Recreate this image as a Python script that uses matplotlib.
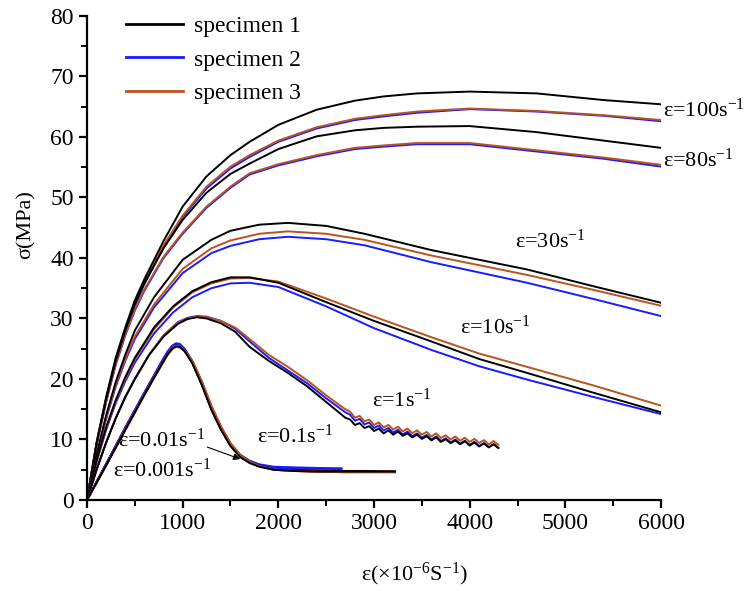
import numpy as np
import matplotlib.pyplot as plt
from matplotlib.lines import Line2D

plt.rcParams['font.family'] = ['Liberation Serif', 'DejaVu Serif']
plt.rcParams['mathtext.fontset'] = 'custom'
plt.rcParams['mathtext.rm'] = 'Liberation Serif'
plt.rcParams['mathtext.it'] = 'Liberation Serif:italic'

# cores dos corpos de prova
c_s1 = '#000000'
c_s2 = '#1a1aff'
c_s3 = '#b9531f'

# ---- taxas altas (100 e 80 s^-1) ----
x_hi = [0, 100, 200, 300, 400, 500, 600, 800, 1000, 1250, 1500, 1700, 2000,
        2400, 2800, 3100, 3450, 4000, 4700, 5400, 6000]
y100_s1 = [0, 9.5, 17, 23.5, 28.5, 33, 36.5, 42.8, 48.5, 53.5, 57, 59.2, 62,
           64.5, 66, 66.7, 67.2, 67.5, 67.2, 66.1, 65.4]
y100_s2 = [0, 9.3, 16.6, 23, 28, 32.2, 35.7, 41.8, 46.8, 51.5, 54.8, 56.7, 59.2,
           61.4, 62.8, 63.4, 64.0, 64.6, 64.2, 63.5, 62.6]
y100_s3 = [0, 9.4, 16.8, 23.2, 28.2, 32.5, 36, 42.1, 47, 51.8, 55.1, 57, 59.4,
           61.6, 63.0, 63.6, 64.2, 64.7, 64.3, 63.6, 62.8]
y80_s1 = [0, 9.3, 16.6, 23, 28, 32.3, 35.8, 41.6, 46.3, 50.8, 53.9, 55.6, 58,
          60.1, 61.1, 61.5, 61.7, 61.8, 60.8, 59.4, 58.2]
y80_s2 = [0, 9.1, 16.2, 22.3, 27.2, 31.3, 34.6, 40.0, 44, 48.3, 51.6, 53.8, 55.3,
          56.8, 58.0, 58.4, 58.8, 58.8, 57.6, 56.4, 55.1]
y80_s3 = [0, 9.2, 16.3, 22.5, 27.4, 31.5, 34.8, 40.2, 44.2, 48.5, 51.8, 54.0, 55.5,
          57.0, 58.2, 58.6, 59.0, 59.0, 57.8, 56.6, 55.4]

# ---- 30 s^-1 ----
x30 = [0, 100, 200, 300, 400, 500, 700, 1000, 1300, 1500, 1800, 2100, 2500,
       2900, 3600, 4600, 5300, 6000]
y30_s1 = [0, 7.5, 14, 19.5, 24, 28, 33.5, 39.7, 43, 44.5, 45.5, 45.8, 45.3,
          44.0, 41.3, 38.1, 35.3, 32.6]
y30_s2 = [0, 7.2, 13.4, 18.7, 23, 26.6, 31.8, 37.5, 40.8, 42.0, 43.1, 43.5, 43.1,
          42.1, 39.3, 35.9, 33.2, 30.4]
y30_s3 = [0, 7.3, 13.6, 19, 23.3, 27, 32.3, 38.2, 41.6, 42.9, 44, 44.4, 44.0,
          43.0, 40.4, 37.2, 34.7, 32.1]

# ---- 10 s^-1 ----
x10 = [0, 100, 200, 300, 400, 500, 700, 900, 1100, 1300, 1500, 1700, 2000,
       2500, 3000, 3600, 4100, 4600, 5300, 6000]
y10_s1 = [0, 6.5, 12, 16.5, 20.3, 23.5, 28.5, 32, 34.5, 36, 36.8, 36.8, 35.9,
          32.7, 29.6, 26.2, 23.3, 21.0, 17.7, 14.5]
y10_s2 = [0, 6.3, 11.6, 16, 19.6, 22.7, 27.5, 31, 33.5, 35, 35.8, 35.9, 35.2,
          32.0, 28.4, 24.8, 22.1, 19.9, 17.0, 14.2]
y10_s3 = [0, 6.4, 11.8, 16.3, 20, 23.2, 28.2, 31.8, 34.3, 35.8, 36.6, 36.7, 36.1,
          33.3, 30.3, 26.9, 24.2, 22.0, 18.9, 15.6]

# ---- 1 s^-1 (com ondulação no final) ----
x1 = [0, 100, 200, 300, 400, 500, 650, 800, 950, 1050, 1150, 1250, 1400, 1550,
      1700, 1900, 2100, 2300, 2500, 2700,
      2750, 2800, 2850, 2900, 2950, 3000, 3050, 3100, 3150, 3200, 3250, 3300,
      3350, 3400, 3450, 3500, 3550, 3600, 3650, 3700, 3750, 3800, 3850, 3900,
      3950, 4000, 4050, 4100, 4150, 4200, 4250, 4300]
y1_s1 = [0, 5, 9.5, 13.5, 17, 20, 24, 27, 29.1, 29.9, 30.2, 30.0, 29.2, 27.8,
         25.3, 23.0, 21.0, 18.8, 16.2, 13.6,
         13.3, 12.4, 12.7, 11.9, 12.2, 11.4, 11.8, 11.0, 11.5, 10.8, 11.3, 10.6,
         11.0, 10.35, 10.8, 10.1, 10.55, 9.85, 10.35, 9.6, 10.05, 9.4, 9.85, 9.2,
         9.7, 9.0, 9.5, 8.85, 9.35, 8.7, 9.2, 8.6]
y1_s2 = [0, 5, 9.5, 13.5, 17, 20, 24, 27.2, 29.4, 30.1, 30.4, 30.3, 29.6, 28.3,
         26.2, 23.5, 21.4, 19.3, 16.8, 14.5,
         14.1, 13.1, 13.4, 12.5, 12.8, 11.9, 12.3, 11.5, 11.9, 11.15, 11.6, 10.85,
         11.3, 10.55, 11.0, 10.3, 10.75, 10.0, 10.5, 9.75, 10.2, 9.5, 10.0, 9.3,
         9.8, 9.1, 9.6, 8.9, 9.4, 8.7, 9.25, 8.6]
y1_s3 = [0, 5, 9.5, 13.5, 17, 20, 24, 27.2, 29.3, 30.0, 30.3, 30.2, 29.6, 28.5,
         26.6, 24.0, 22.0, 19.8, 17.3, 15.0,
         14.6, 13.6, 13.9, 13.0, 13.3, 12.4, 12.8, 12.0, 12.4, 11.65, 12.1, 11.35,
         11.8, 11.05, 11.5, 10.8, 11.25, 10.5, 11.0, 10.25, 10.7, 10.0, 10.5, 9.8,
         10.3, 9.6, 10.1, 9.4, 9.9, 9.2, 9.75, 9.1]

# ---- taxas baixas (0.1, 0.01, 0.001 s^-1) ----
x_lo = [0, 200, 400, 600, 700, 780, 840, 890, 930, 970, 1020, 1100, 1200, 1300,
        1400, 1500, 1600, 1700, 1800, 1950, 2150, 2400, 2660, 2900, 3220]
y01_s1 = [0, 5.9, 11.8, 17.6, 20.4, 22.6, 24.2, 25.2, 25.6, 25.5, 24.8, 22.8,
          19.2, 15.0, 11.7, 9.0, 7.2, 6.2, 5.6, 5.1, 4.9, 4.8, 4.7, 4.7, 4.7]
y01_s2 = [0, 6.0, 12.0, 17.8, 20.6, 22.9, 24.5, 25.5, 25.9, 25.8, 25.0, 23.0,
          19.5, 15.4, 12.0, 9.3, 7.5, 6.5, 5.9, 5.5, 5.4, 5.3, 5.2]
y01_s3 = [0, 5.8, 11.6, 17.4, 20.2, 22.4, 24.0, 25.0, 25.4, 25.3, 24.7, 23.0,
          19.6, 15.6, 12.2, 9.4, 7.5, 6.4, 5.7, 5.1, 4.8, 4.7, 4.6, 4.6, 4.6]
y001_s1 = [0, 5.8, 11.7, 17.5, 20.3, 22.5, 24.1, 25.1, 25.5, 25.4, 24.7, 22.7,
           19.1, 15.1, 11.8, 9.1, 7.3, 6.3, 5.7, 5.2, 5.0, 4.9, 4.8, 4.8, 4.7]
y001_s2 = [0, 5.9, 11.9, 17.7, 20.5, 22.8, 24.4, 25.4, 25.8, 25.7, 24.9, 22.9,
           19.4, 15.3, 11.9, 9.2, 7.4, 6.4, 5.8, 5.4, 5.3, 5.2, 5.2]
y001_s3 = [0, 5.7, 11.5, 17.3, 20.1, 22.3, 23.9, 24.9, 25.3, 25.2, 24.6, 22.9,
           19.5, 15.5, 12.1, 9.3, 7.4, 6.3, 5.6, 5.0, 4.8, 4.7, 4.6, 4.6, 4.6]
y0001_s1 = [0, 5.7, 11.6, 17.4, 20.2, 22.4, 24.0, 25.0, 25.4, 25.3, 24.6, 22.6,
            19.0, 14.9, 11.6, 8.9, 7.1, 6.1, 5.5, 5.0, 4.8, 4.7, 4.7, 4.7, 4.7]
y0001_s2 = [0, 5.9, 11.8, 17.6, 20.5, 22.7, 24.3, 25.3, 25.7, 25.6, 24.9, 22.9,
            19.3, 15.2, 11.8, 9.1, 7.3, 6.3, 5.7, 5.3, 5.2, 5.2, 5.1]
y0001_s3 = [0, 5.8, 11.7, 17.5, 20.3, 22.5, 24.1, 25.1, 25.5, 25.4, 24.7, 23.0,
            19.6, 15.5, 12.1, 9.3, 7.4, 6.3, 5.6, 5.0, 4.8, 4.7, 4.6, 4.6, 4.6]

# rótulos de taxa: (texto, x, y)
rotulos = [
    (r'ε=100s$^{-1}$', 6020, 64.5),
    (r'ε=80s$^{-1}$', 6020, 56.2),
    (r'ε=30s$^{-1}$', 4470, 42.8),
    (r'ε=10s$^{-1}$', 3900, 28.6),
    (r'ε=1s$^{-1}$', 2975, 16.5),
    (r'ε=0.1s$^{-1}$', 1775, 10.5),
    (r'ε=0.01s$^{-1}$', 320, 9.9),
    (r'ε=0.001s$^{-1}$', 270, 5.0),
]

fig = plt.figure(figsize=(7.48, 5.91), dpi=100)
ax = fig.add_axes([0.1163, 0.154, 0.7674, 0.819])

lw = 1.4
grupos = [
    (x_hi, y100_s1, y100_s2, y100_s3),
    (x_hi, y80_s1, y80_s2, y80_s3),
    (x30, y30_s1, y30_s2, y30_s3),
    (x10, y10_s1, y10_s2, y10_s3),
    (x1, y1_s1, y1_s2, y1_s3),
    (x_lo, y01_s1, y01_s2, y01_s3),
    (x_lo, y001_s1, y001_s2, y001_s3),
    (x_lo, y0001_s1, y0001_s2, y0001_s3),
]
for x, s1, s2, s3 in grupos:
    ax.plot(x[:len(s2)], s2, color=c_s2, lw=lw)
    ax.plot(x[:len(s3)], s3, color=c_s3, lw=lw)
    ax.plot(x[:len(s1)], s1, color=c_s1, lw=lw)

for txt, xt, yt in rotulos:
    ax.text(xt, yt, txt, fontsize=16, ha='left', va='center', clip_on=False)

ax.annotate('', xy=(1630, 6.6), xytext=(1230, 8.9),
            arrowprops=dict(arrowstyle='-|>', color='black', lw=0.8,
                            mutation_scale=10))

ax.set_xlim(0, 6000)
ax.set_ylim(0, 80)
ax.set_xticks(np.arange(0, 6001, 1000))
ax.set_xticks(np.arange(0, 6001, 500), minor=True)
ax.set_yticks(np.arange(0, 81, 10))
ax.set_yticks(np.arange(0, 81, 5), minor=True)

for lado in ['top', 'right']:
    ax.spines[lado].set_visible(False)
for lado in ['left', 'bottom']:
    ax.spines[lado].set_linewidth(1.6)
ax.tick_params(which='major', direction='out', length=6, width=1.6, labelsize=17)
ax.tick_params(which='minor', direction='out', length=4, width=1.4)

ax.set_xlabel(r'ε(×10$^{-6}$S$^{-1}$)', fontsize=16)
ax.xaxis.set_label_coords(0.571, -0.125)
ax.set_ylabel('σ(MPa)', fontsize=16)
ax.yaxis.set_label_coords(-0.09, 0.57)

handles = [Line2D([], [], color=c_s1, lw=2),
           Line2D([], [], color=c_s2, lw=2),
           Line2D([], [], color=c_s3, lw=2)]
ax.legend(handles, ['specimen 1', 'specimen 2', 'specimen 3'],
          loc='upper left', bbox_to_anchor=(0.048, 1.025), frameon=False,
          fontsize=17, handlelength=2.4, handletextpad=0.45, labelspacing=0.5,
          borderpad=0)

fig.savefig('out.png', dpi=100)
